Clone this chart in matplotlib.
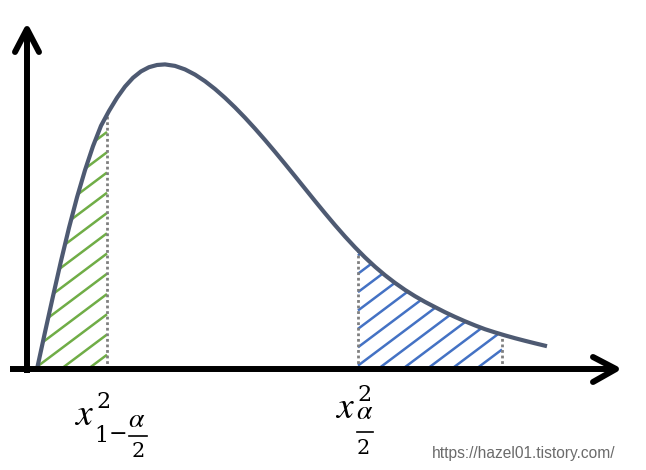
import numpy as np
import matplotlib.pyplot as plt

plt.rcParams['mathtext.fontset'] = 'stix'

# chi-square shaped curve: x position, height above the x axis
curve_x = [37, 45, 53, 61, 69, 77, 85, 93, 101, 109, 117, 125, 133, 141, 149, 157, 165,
           175, 185, 195, 205, 215, 225, 235, 245, 255, 265, 275, 285, 295, 305, 315,
           325, 335, 345, 355, 365, 375, 385, 395, 405, 415, 425, 435, 445, 455, 465,
           475, 485, 495, 505, 515, 525, 535, 547]
curve_h = [0, 36.8, 72.8, 108, 141.2, 171.6, 198.8, 222.8, 243.2, 258, 271.2, 282.4,
           291.2, 297.6, 301.8, 304, 304.6, 303.1, 299.6, 294.4, 287.8, 280, 271.2,
           261.6, 251.3, 240.4, 229, 217.2, 205.1, 192.8, 180.4, 168, 155.8, 143.9,
           132.5, 121.7, 111.6, 102.3, 93.8, 86.1, 79.1, 72.8, 67.1, 61.9, 56.8, 52.1,
           47.7, 43.6, 39.8, 36.6, 33.6, 30.8, 28.2, 25.7, 22.8]

# critical values (lower tail, upper tail) and where the right shading stops
lower_q = 107
upper_q = 358
right_end = 502

BASE = 369          # pixel row of the x axis
W, H = 646, 470


def Y(py):
    # pixel row -> data height
    return BASE - py


fig = plt.figure(figsize=(W / 100, H / 100), dpi=100)
ax = fig.add_axes([0, 0, 1, 1])
ax.set_xlim(0, W)
ax.set_ylim(BASE - H, BASE)
ax.axis('off')

cx = np.array(curve_x, dtype=float)
ch = np.array(curve_h, dtype=float)

# region under the curve, used to clip the hatch lines
under = plt.Polygon(np.column_stack([np.r_[cx, cx[-1], cx[0]], np.r_[ch, 0, 0]]),
                    closed=True, facecolor='none', edgecolor='none')
ax.add_patch(under)


def hatch(lo, hi, slope, step, anchor, color):
    top = np.interp(hi, cx, ch)
    k = np.arange(-40, 40)
    for x0 in anchor + k * step:
        xa = max(lo, x0)
        if xa >= hi:
            continue
        if slope * (hi - x0) <= 0:
            continue
        if slope * (xa - x0) > top + 300:
            continue
        xs = np.array([xa, hi])
        ln, = ax.plot(xs, slope * (xs - x0), color=color, lw=1.8,
                      solid_capstyle='butt', zorder=2)
        ln.set_clip_path(under)


hatch(cx[0], lower_q, 0.75, 27, 88, '#70AD47')
hatch(upper_q, right_end, 0.75, 24.5, 378, '#4472C4')

# dotted guides at the critical values
for q in (lower_q, upper_q, right_end):
    ax.plot([q, q], [0, np.interp(q, cx, ch)], color='#7F7F7F', lw=2,
            linestyle=(0, (1, 1)), zorder=3)

ax.plot(cx, ch, color='#4E5A72', lw=3, solid_capstyle='butt',
        solid_joinstyle='round', zorder=4)

# axes with open arrow heads
ax_kw = dict(color='black', lw=4.3, zorder=5)
ax.plot([27, 27], [Y(373), Y(30)], solid_capstyle='butt', **ax_kw)
ax.plot([15, 27, 39], [Y(52), Y(29), Y(52)], solid_capstyle='round',
        solid_joinstyle='round', **ax_kw)
ax.plot([10, 614], [0, 0], solid_capstyle='butt', **ax_kw)
ax.plot([593, 616, 593], [Y(357), 0, Y(382)], solid_capstyle='round',
        solid_joinstyle='round', **ax_kw)

# labels: italic letters from mathtext, digits in a serif face
tk = dict(ha='center', va='baseline', color='black')
dg = dict(family='DejaVu Serif', **tk)

# lower label  x^2_{1-a/2}
ax.text(84, Y(425), '$x$', fontsize=27, **tk)
ax.text(104, Y(408), '2', fontsize=16, **dg)
ax.text(101, Y(442), '1', fontsize=16, **dg)
ax.text(118, Y(440), '\u2212', fontsize=16, **dg)
ax.text(137, Y(427), r'$\alpha$', fontsize=20, **tk)
ax.plot([129, 147], [Y(436), Y(436)], color='black', lw=1.2)
ax.text(138.5, Y(457), '2', fontsize=15, **dg)

# upper label  x^2_{a/2}
ax.text(345, Y(418), '$x$', fontsize=27, **tk)
ax.text(364.5, Y(401), '2', fontsize=16, **dg)
ax.text(365, Y(419), r'$\alpha$', fontsize=20, **tk)
ax.plot([357, 373], [Y(432), Y(432)], color='black', lw=1.2)
ax.text(363.5, Y(454), '2', fontsize=15, **dg)

ax.text(432, Y(458), 'https://hazel01.tistory.com/', fontsize=11.2,
        family='Liberation Sans', color='#6b6b6b', ha='left', va='baseline')

fig.savefig('out.png', dpi=100, facecolor='white')
